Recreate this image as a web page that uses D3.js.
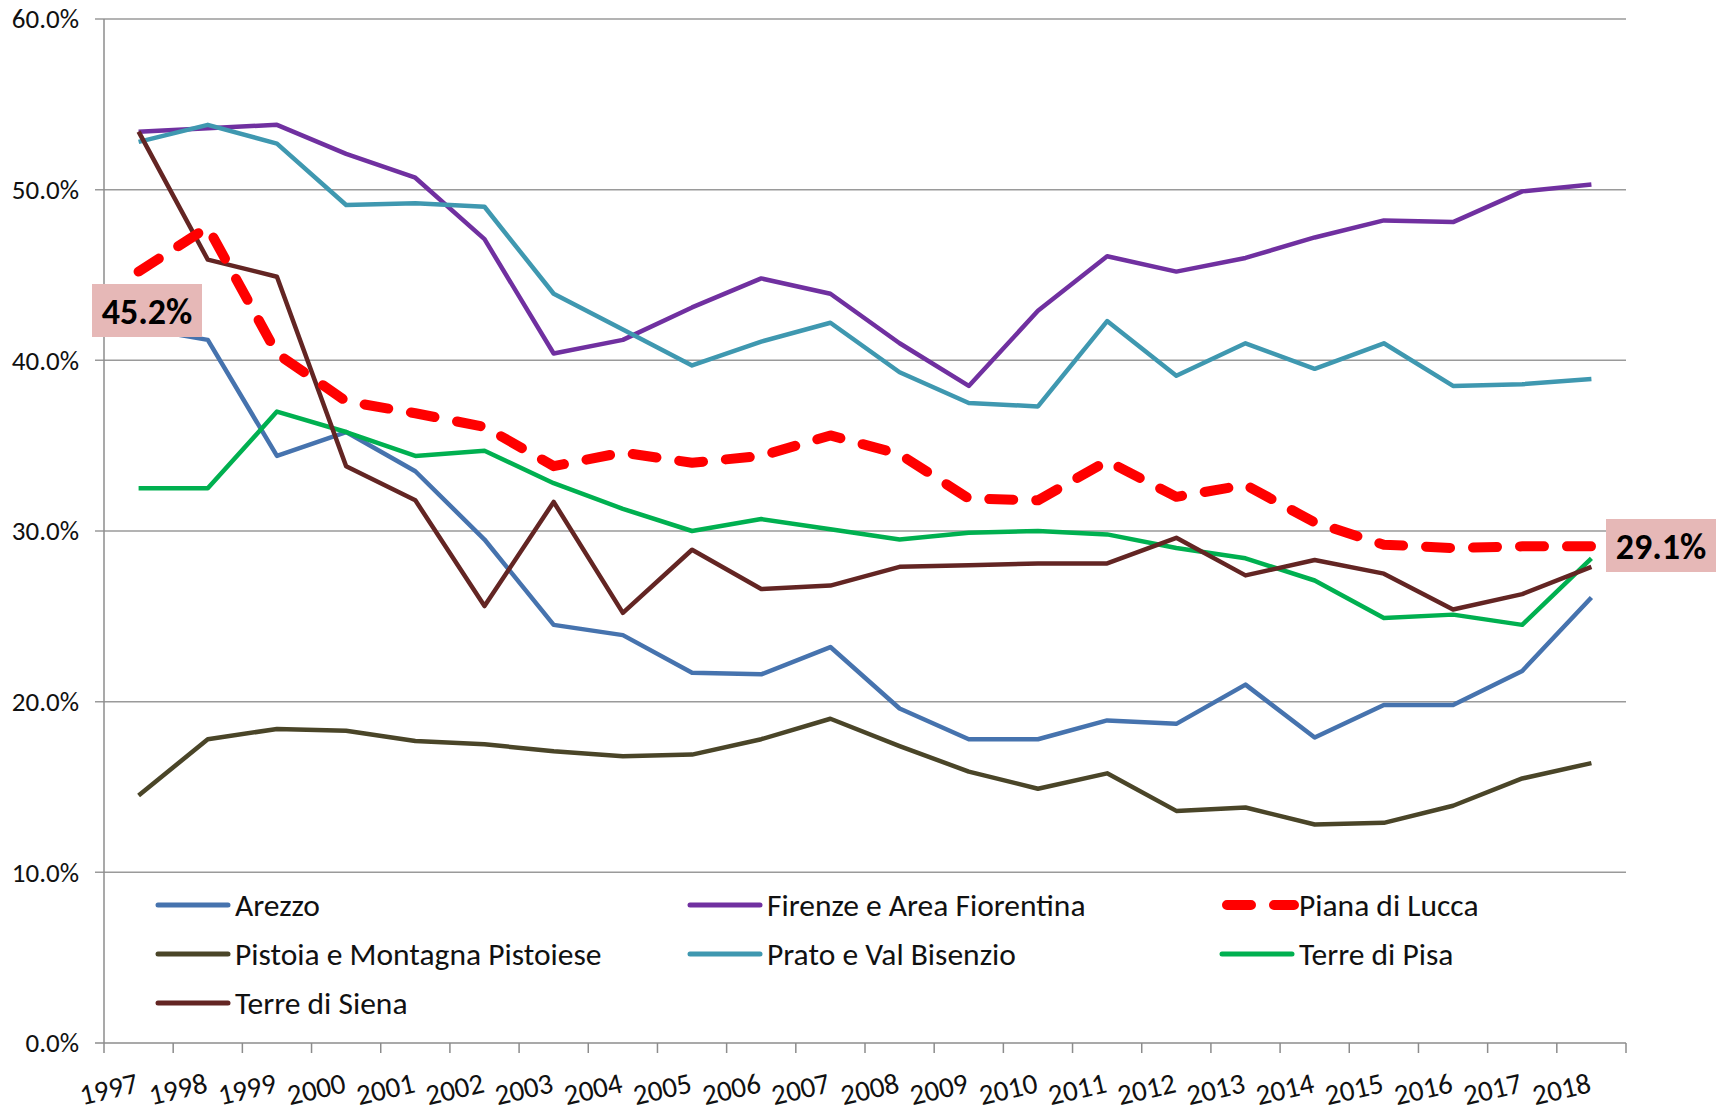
<!DOCTYPE html>
<html>
<head>
<meta charset="utf-8">
<script src="https://cdn.jsdelivr.net/npm/d3@7"></script>
<style>
  body { margin: 0; background: #fff; }
  svg text { font-family: Carlito, Calibri, "Open Sans", "Noto Sans", sans-serif; }
</style>
</head>
<body>
<div id="chart"></div>
<script>
// Data
const years = ["1997","1998","1999","2000","2001","2002","2003","2004","2005","2006","2007","2008","2009","2010","2011","2012","2013","2014","2015","2016","2017","2018"];
const arezzo   = [41.9,41.2,34.4,35.8,33.5,29.5,24.5,23.9,21.7,21.6,23.2,19.6,17.8,17.8,18.9,18.7,21.0,17.9,19.8,19.8,21.8,26.1];
const firenze  = [53.4,53.6,53.8,52.1,50.7,47.1,40.4,41.2,43.1,44.8,43.9,41.0,38.5,42.9,46.1,45.2,46.0,47.2,48.2,48.1,49.9,50.3];
const lucca    = [45.2,47.8,40.4,37.6,36.9,36.1,33.8,34.6,34.0,34.4,35.6,34.5,31.9,31.8,34.1,32.0,32.7,30.5,29.2,29.0,29.1,29.1];
const pistoia  = [14.5,17.8,18.4,18.3,17.7,17.5,17.1,16.8,16.9,17.8,19.0,17.4,15.9,14.9,15.8,13.6,13.8,12.8,12.9,13.9,15.5,16.4];
const prato    = [52.8,53.8,52.7,49.1,49.2,49.0,43.9,41.8,39.7,41.1,42.2,39.3,37.5,37.3,42.3,39.1,41.0,39.5,41.0,38.5,38.6,38.9];
const pisa     = [32.5,32.5,37.0,35.8,34.4,34.7,32.8,31.3,30.0,30.7,30.1,29.5,29.9,30.0,29.8,29.0,28.4,27.1,24.9,25.1,24.5,28.4];
const siena    = [53.4,45.9,44.9,33.8,31.8,25.6,31.7,25.2,28.9,26.6,26.8,27.9,28.0,28.1,28.1,29.6,27.4,28.3,27.5,25.4,26.3,27.9];
const yTicks = [0,10,20,30,40,50,60];

const series = [
  {name: "Arezzo", values: arezzo, color: "#4673ae"},
  {name: "Firenze e Area Fiorentina", values: firenze, color: "#7030a0"},
  {name: "Piana di Lucca", values: lucca, color: "#ff0000", dashed: true},
  {name: "Pistoia e Montagna Pistoiese", values: pistoia, color: "#4a4528"},
  {name: "Prato e Val Bisenzio", values: prato, color: "#3f98b0"},
  {name: "Terre di Pisa", values: pisa, color: "#00b050"},
  {name: "Terre di Siena", values: siena, color: "#632523"}
];

const W = 1731, H = 1113;
const margin = {top: 19, right: 105, bottom: 70, left: 104};

const svg = d3.select("#chart").append("svg")
  .attr("width", W).attr("height", H);

const x = d3.scaleBand().domain(years).range([margin.left, W - margin.right]);
const y = d3.scaleLinear().domain([0, 60]).range([H - margin.bottom, margin.top]);

// gridlines
svg.append("g").selectAll("line")
  .data(yTicks.filter(d => d > 0))
  .join("line")
  .attr("x1", margin.left - 9).attr("x2", W - margin.right)
  .attr("y1", d => y(d)).attr("y2", d => y(d))
  .attr("stroke", "#9a9a9a").attr("stroke-width", 1.5);

// axes
svg.append("line")
  .attr("x1", margin.left).attr("x2", margin.left)
  .attr("y1", y(60)).attr("y2", y(0))
  .attr("stroke", "#8c8c8c").attr("stroke-width", 1.5);
svg.append("line")
  .attr("x1", margin.left - 9).attr("x2", W - margin.right)
  .attr("y1", y(0)).attr("y2", y(0))
  .attr("stroke", "#8c8c8c").attr("stroke-width", 1.5);

svg.append("g").selectAll("text")
  .data(yTicks)
  .join("text")
  .attr("x", margin.left - 25).attr("y", d => y(d))
  .attr("dy", "0.35em")
  .attr("text-anchor", "end")
  .attr("font-size", 27)
  .attr("fill", "#111")
  .text(d => d3.format(".1f")(d) + "%");

// x ticks at band edges
const edges = years.map(d => x(d)).concat([x(years[years.length - 1]) + x.bandwidth()]);
svg.append("g").selectAll("line")
  .data(edges)
  .join("line")
  .attr("x1", d => d).attr("x2", d => d)
  .attr("y1", y(0)).attr("y2", y(0) + 10)
  .attr("stroke", "#8c8c8c").attr("stroke-width", 1.5);

svg.append("g").selectAll("text")
  .data(years)
  .join("text")
  .attr("transform", d => `translate(${x(d) + x.bandwidth() / 2 + 1},${y(0) + 49}) rotate(-13)`)
  .attr("text-anchor", "end")
  .attr("font-size", 29)
  .attr("fill", "#111")
  .text(d => d);

// lines
const line = d3.line()
  .x((d, i) => x(years[i]) + x.bandwidth() / 2)
  .y(d => y(d));

const order = [0, 1, 3, 4, 5, 6, 2];
svg.append("g").selectAll("path")
  .data(order.map(i => series[i]))
  .join("path")
  .attr("d", d => line(d.values))
  .attr("fill", "none")
  .attr("stroke", d => d.color)
  .attr("stroke-width", d => d.dashed ? 10 : 4.5)
  .attr("stroke-linejoin", "round")
  .attr("stroke-linecap", d => d.dashed ? "round" : "butt")
  .attr("stroke-dasharray", d => d.dashed ? "24,23" : null);

// value labels
function valueLabel(xc, yc, txt) {
  const g = svg.append("g");
  g.append("rect")
    .attr("x", xc - 55).attr("y", yc - 27)
    .attr("width", 110).attr("height", 53)
    .attr("fill", "#e6b8b7");
  g.append("text")
    .attr("x", xc).attr("y", yc)
    .attr("dy", "0.36em")
    .attr("text-anchor", "middle")
    .attr("font-size", 36)
    .attr("font-weight", "bold")
    .attr("fill", "#000")
    .text(txt);
}
valueLabel(147, 311, d3.format(".1f")(lucca[0]) + "%");
valueLabel(1661, 546, d3.format(".1f")(lucca[lucca.length - 1]) + "%");

// legend
const legCols = [158, 690, 1222];
const legRows = [905, 954, 1003];
const leg = svg.append("g").selectAll("g")
  .data(series)
  .join("g")
  .attr("transform", (d, i) => `translate(${legCols[i % 3]},${legRows[Math.floor(i / 3)]})`);
leg.append("line")
  .attr("stroke", d => d.color)
  .attr("stroke-width", d => d.dashed ? 10 : 5)
  .attr("stroke-linecap", "round")
  .attr("stroke-dasharray", d => d.dashed ? "24,23" : null)
  .attr("x1", d => d.dashed ? 5 : 0)
  .attr("x2", d => d.dashed ? 72 : 70);
leg.append("text")
  .attr("x", 77).attr("dy", "0.35em")
  .attr("font-size", 31.5)
  .attr("fill", "#111")
  .text(d => d.name);
</script>
</body>
</html>
